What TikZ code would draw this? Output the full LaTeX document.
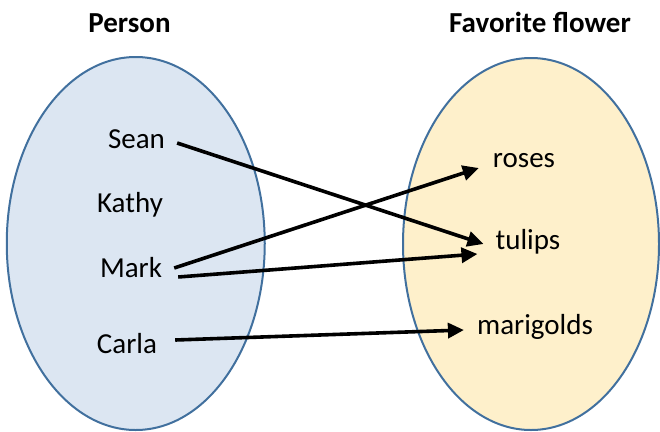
\documentclass[tikz,border=0pt]{standalone}
\usepackage{fontspec}
\setmainfont{Carlito}
\usetikzlibrary{arrows.meta}
\definecolor{lblue}{HTML}{DCE6F2}
\definecolor{lgold}{HTML}{FEF0CB}
\definecolor{edge}{HTML}{41709E}
\tikzset{
  setshape/.style={draw=edge, line width=2pt},
  lbl/.style={anchor=base, inner sep=0pt, font=\fontsize{29}{34}\selectfont},
  ttl/.style={anchor=base, inner sep=0pt, font=\fontsize{29}{34}\selectfont\bfseries},
  arr/.style={line width=3.6pt, -{Triangle[length=16pt,width=15pt]}}
}
\begin{document}
\begin{tikzpicture}[x=1pt,y=-1pt]
\useasboundingbox (0,0) rectangle (660,431);
\fill[lblue] (135.75,243.5) ellipse [x radius=129, y radius=186.5];
\draw[setshape] (135.75,243.5) ellipse [x radius=129, y radius=186.5];
\fill[lgold] (531,244) ellipse [x radius=128, y radius=186];
\draw[setshape] (531,244) ellipse [x radius=128, y radius=186];
\node[ttl] (tp) at (129.5,32) {Person};
\node[ttl] (tf) at (540,32) {Favorite flower};
\node[lbl] (sean) at (136.5,148) {Sean};
\node[lbl] (kathy) at (130,212) {Kathy};
\node[lbl] (mark) at (131,277) {Mark};
\node[lbl] (carla) at (127,353) {Carla};
\node[lbl] (roses) at (524,167) {roses};
\node[lbl] (tulips) at (528,249) {tulips};
\node[lbl] (mari) at (535,334) {marigolds};
\draw[arr] ([shift={(12,-5)}]sean.base east) -- ([shift={(-12,-5)}]tulips.base west);
\draw[arr] ([shift={(12,-9)}]mark.base east) -- ([shift={(-14,1)}]roses.base west);
\draw[arr] ([shift={(16,0)}]mark.base east) -- ([shift={(-18,5)}]tulips.base west);
\draw[arr] ([shift={(18,-13)}]carla.base east) -- ([shift={(-13,-4)}]mari.base west);
\end{tikzpicture}
\end{document}
